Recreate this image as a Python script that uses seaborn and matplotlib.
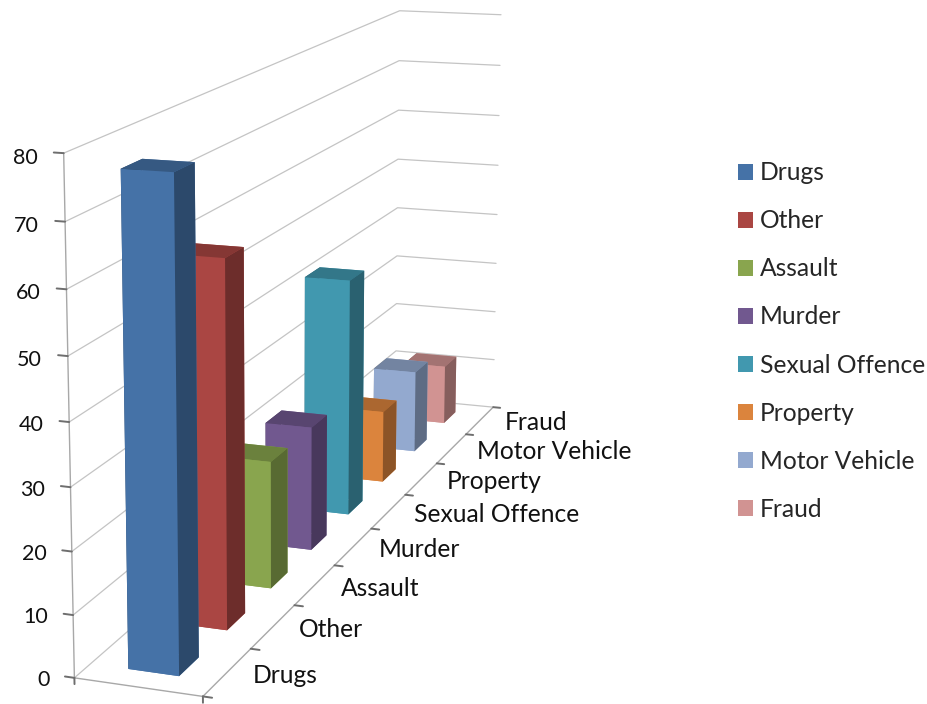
import numpy as np
import matplotlib
matplotlib.use("Agg")
import matplotlib.pyplot as plt
from matplotlib.patches import Patch
import seaborn as sns

# ---------- data ----------
categories = ["Drugs", "Other", "Assault", "Murder", "Sexual Offence",
              "Property", "Motor Vehicle", "Fraud"]
values = [77, 60, 21.7, 21.8, 42.8, 13.4, 15.7, 11.6]
value_ticks = [0, 10, 20, 30, 40, 50, 60, 70, 80]
front_colors = ["#4572A7", "#AA4643", "#89A54E", "#71588F",
                "#4198AF", "#DB843D", "#93A9CF", "#D19392"]

# ---------- camera calibration: (x, depth, value) -> reference pixel ----------
W, H = 928, 704
world_pts = [(0, 0, 0), (1, 0, 0), (0, 0, 80), (0, 8, 80), (1, 8, 80), (0, 8, 0),
             (1, 8, 0), (0, 0, 10), (0, 0, 70), (1, 1, 0), (1, 2, 0), (1, 7, 0),
             (0, 8, 40), (1, 8, 40)]
pixel_pts = [(75, 678), (201, 697), (64, 153), (399, 10), (502, 15), (396, 398),
             (492, 407), (72.7, 615), (65.5, 222), (250, 648), (296, 605), (468, 434),
             (397, 208), (496, 215)]


def fit_camera(world, pixels):
    rows = []
    for (x, y, z), (u, v) in zip(world, pixels):
        rows.append([x, y, z, 1, 0, 0, 0, 0, -u * x, -u * y, -u * z, -u])
        rows.append([0, 0, 0, 0, x, y, z, 1, -v * x, -v * y, -v * z, -v])
    p = np.linalg.svd(np.array(rows, float))[2][-1].reshape(3, 4)
    return p / p[2, 3]


P = fit_camera(world_pts, pixel_pts)

sns.set_theme(style="white")
plt.rcParams["font.family"] = ["Lato", "DejaVu Sans"]
palette = sns.color_palette(front_colors)

fig = plt.figure(figsize=(W / 100, H / 100), dpi=100, facecolor="white")
ax = fig.add_axes([0, 0, 1, 1], projection="3d", computed_zorder=False)
ax.apply_aspect = lambda position=None: None
ax.set_position([0, 0, 1, 1])
ax.set_proj_type("ortho")
ax.set_xlim(0, 1)
ax.set_ylim(0, 8)
ax.set_zlim(0, 80)
ax.set_xticks([])
ax.set_yticks([])
ax.set_zticks([])
ax.set_axis_off()


def camera_proj():
    # pixel (top-left origin) -> axes 2-D data coordinates
    inv = ax.transData.inverted()
    o = inv.transform((0, H))
    ex = inv.transform((1, H)) - o
    ey = inv.transform((0, H - 1)) - o
    S = np.array([[ex[0], ey[0], o[0]], [ex[1], ey[1], o[1]], [0, 0, 1]])
    R = S @ P
    depth = np.array([-0.1, 0.1, -0.001, 0.5])
    return np.array([R[0], R[1], depth, R[2]])


ax.get_proj = camera_proj
ax.M = camera_proj()
ax.invM = np.linalg.inv(ax.M)


def label_at(x, y, z, text, **kw):
    # place a flat label at the figure position of a 3-D point
    u, v, w = P @ np.array([x, y, z, 1.0])
    fig.text(u / w / W, 1 - v / w / H, text, va="center", color="#111111", **kw)


grid_c, axis_c, tick_c = "#c4c4c4", "#a8a8a8", "#6e6e6e"
for v in value_ticks[1:]:
    ax.plot([0, 0, 1], [0, 8, 8], [v, v, v], color=grid_c, lw=0.9, zorder=1)
ax.plot([0, 0, 1], [0, 8, 8], [0, 0, 0], color=grid_c, lw=0.9, zorder=1)
ax.plot([0, 0], [0, 0], [0, 80], color=axis_c, lw=1.0, zorder=2)
ax.plot([0, 1], [0, 0], [0, 0], color=axis_c, lw=1.0, zorder=2)
ax.plot([1, 1], [0, 8], [0, 0], color=axis_c, lw=1.0, zorder=2)

for v in value_ticks:
    ax.plot([-0.075, 0], [0, 0], [v, v], color=tick_c, lw=1.4, zorder=2)
    label_at(-0.2, 0, v - 0.9, str(v), ha="right", fontsize=15.5)
for i in range(len(categories) + 1):
    ax.plot([1, 1.07], [i, i], [0, 0], color=tick_c, lw=1.4, zorder=2)
ax.plot([0, 0], [0, 0], [0, -1], color=tick_c, lw=1.4, zorder=2)
ax.plot([1, 1], [0, 0], [0, -1], color=tick_c, lw=1.4, zorder=2)
for i, name in enumerate(categories):
    label_at(1.2 + 0.05 * i / 7, i + 0.5, 0, name, ha="left", fontsize=17.7)

for i, (val, c) in enumerate(zip(values, palette)):
    c = np.array(c)
    top, side = c * 0.78, c * 0.64
    ax.bar3d(0.3, i + 0.3, 0, 0.4, 0.4, val,
             color=[c, top, c, c, side, side], shade=False,
             zorder=20 - i, linewidth=0)

handles = [Patch(facecolor=c, edgecolor="none", label=n) for c, n in zip(palette, categories)]
ax.legend(handles=handles, loc="center left", bbox_to_anchor=(738 / W, 1 - 341 / H),
          bbox_transform=fig.transFigure, frameon=False, fontsize=17.7,
          handlelength=0.62, handleheight=0.62, handletextpad=0.27, labelspacing=1.02,
          borderpad=0, borderaxespad=0)

fig.savefig("out.png", dpi=100)
